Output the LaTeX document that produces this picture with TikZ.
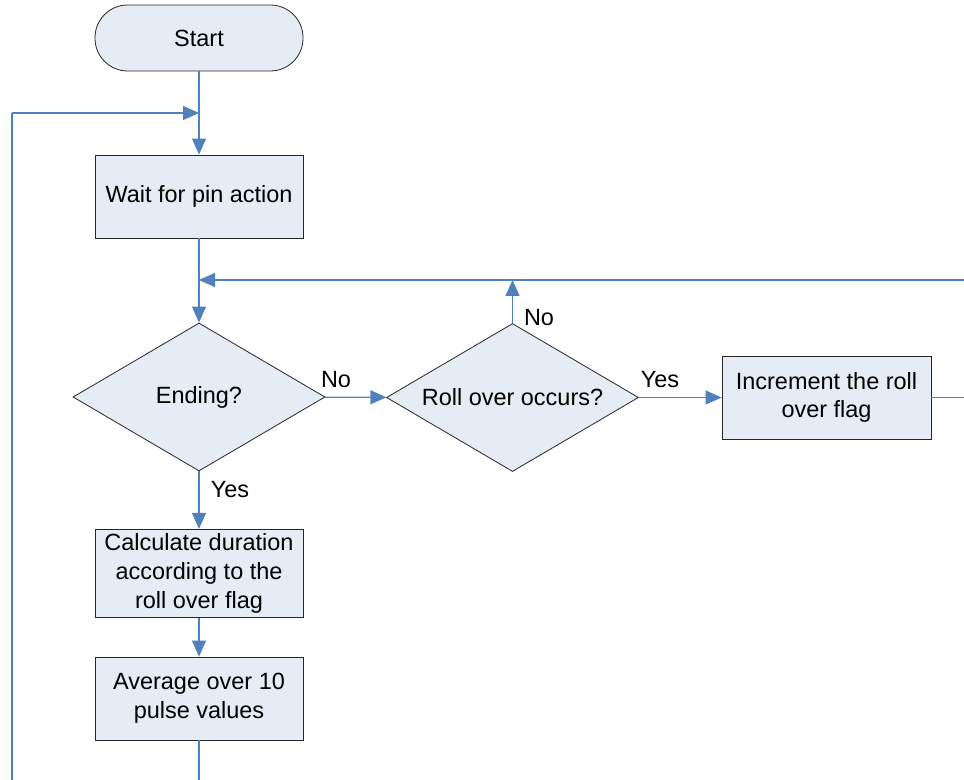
\documentclass[tikz,border=0pt]{standalone}
\usepackage{fontspec}
\setmainfont{Liberation Sans}
\usetikzlibrary{shapes.geometric,arrows.meta}
\definecolor{boxfill}{HTML}{E6ECF6}
\definecolor{flowline}{HTML}{4F81BD}

\begin{document}
\begin{tikzpicture}[x=0.75pt, y=-0.75pt]
        \tikzset{Box/.style={shape=rectangle, draw=black!85, fill=boxfill, line width=0.6pt, minimum width=156pt, minimum height=62.25pt, align=center, font=\fontsize{17.6}{21.6}\selectfont}}
        \tikzset{Term/.style={Box, rounded corners=24.5pt, minimum height=49.5pt}}
        \tikzset{Decision/.style={shape=diamond, draw=black!85, fill=boxfill, line width=0.6pt, inner sep=0pt, minimum width=189pt, minimum height=111pt, font=\fontsize{17.6}{21.6}\selectfont}}
        \tikzset{Flow/.style={draw=flowline, line width=0.9pt, -{Triangle[length=12pt, width=10.5pt]}}}
        \tikzset{Wire/.style={draw=flowline, line width=0.9pt}}
        \tikzset{Answer/.style={font=\fontsize{17.6}{21.6}\selectfont, inner sep=0pt}}

        \useasboundingbox (0,0) rectangle (964,780);

        % nodes
        \node[Term] (start) at (199, 38) {Start};
        \node[Box]  (wait)  at (199, 196.5) {Wait for pin action};

        % diamond text is wider than the inner rhombus, so keep it out of the sizing
        \node[Decision] (ending) at (199, 397) {\makebox[0pt]{Ending?}};
        \node[Decision] (roll)   at (512.5, 397.5) {\makebox[0pt]{Roll over occurs?}};
        \node[Box, minimum width=156.75pt] (incr) at (826.5, 397.5) {Increment the roll\\over flag};

        \node[Box] (calc) at (199, 573.5) {Calculate duration\\according to the\\roll over flag};
        \node[Box] (avg)  at (199, 698.5) {Average over 10\\pulse values};

        % labels
        \node[Answer] (noEnd)   at (336, 380) {No};
        \node[Answer] (yesRoll) at (660, 380) {Yes};
        \node[Answer] (noRoll)  at (539, 318) {No};
        \node[Answer] (yesEnd)  at (230, 490) {Yes};

        % junctions and loose ends
        \coordinate (joinTop)  at (199, 113);
        \coordinate (joinMid)  at (199, 280);
        \coordinate (leftTop)  at (12, 113);
        \coordinate (leftEnd)  at (12, 790);
        \coordinate (downEnd)  at (199, 790);
        \coordinate (rightTop) at (968, 280);
        \coordinate (rightMid) at (968, 397.5);

        % arrows
        \draw[Flow] (start) -- (wait);
        \draw[Wire] (leftEnd) -- (leftTop);
        \draw[Flow] (leftTop) -- (joinTop);
        \draw[Flow] (wait) -- (ending);
        \draw[Flow] (rightTop) -- (joinMid);
        \draw[Flow] (ending) -- (roll);
        \draw[Flow] (roll.north) -- (roll.north |- joinMid);
        \draw[Flow] (roll) -- (incr);
        \draw[Wire] (incr) -- (rightMid) -- (rightTop);
        \draw[Flow] (ending) -- (calc);
        \draw[Flow] (calc) -- (avg);
        \draw[Wire] (avg) -- (downEnd);
    \end{tikzpicture}
\end{document}
